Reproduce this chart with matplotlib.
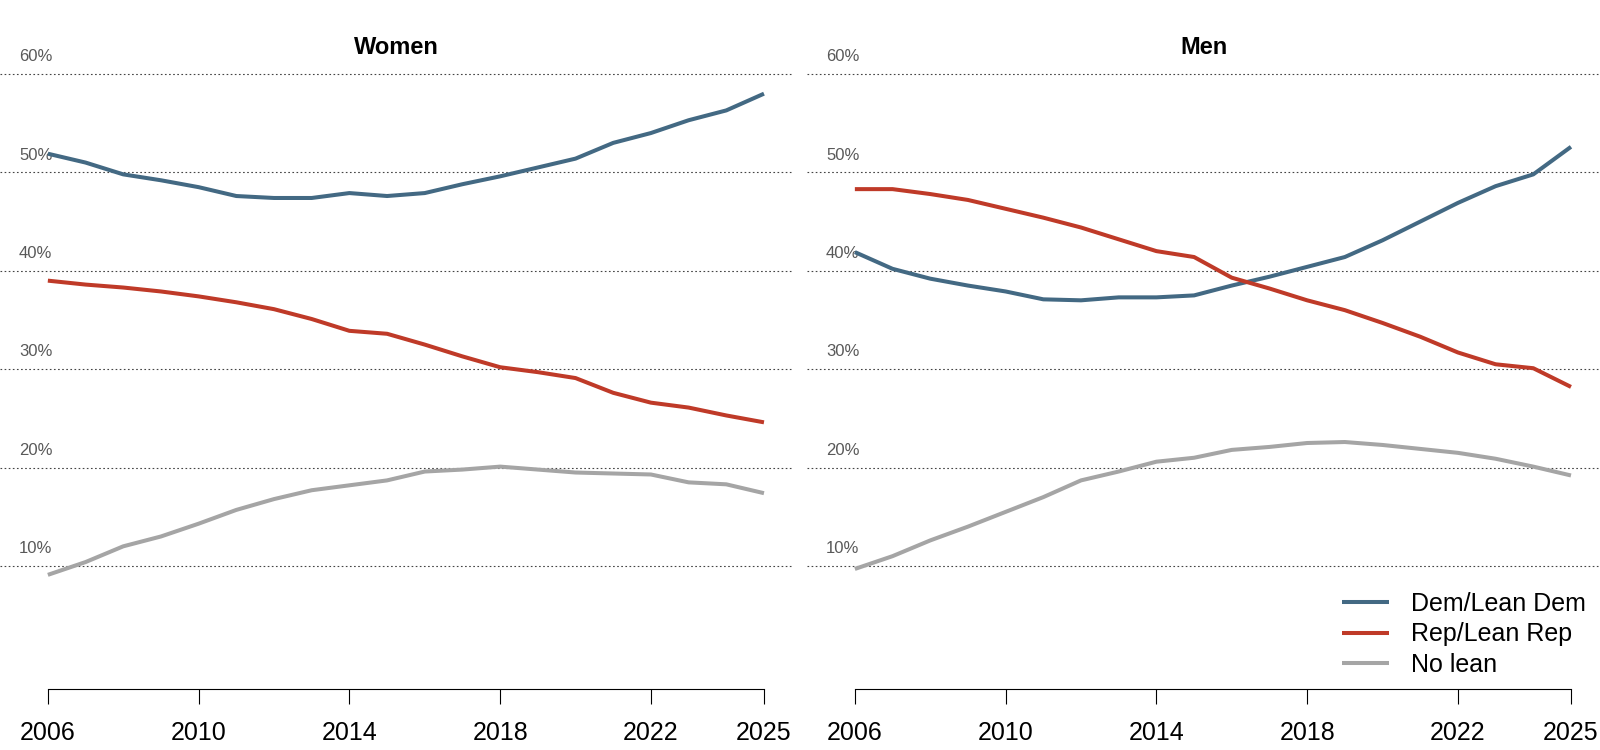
import matplotlib
matplotlib.use("Agg")
import matplotlib.pyplot as plt
import matplotlib.transforms as mtransforms

plt.rcParams['font.family'] = ['Liberation Sans', 'DejaVu Sans']

# data (percent)
years = list(range(2006, 2026))

women_dem = [51.9, 51.0, 49.8, 49.2, 48.5, 47.6, 47.4, 47.4, 47.9, 47.6,
             47.9, 48.8, 49.6, 50.5, 51.4, 53.0, 54.0, 55.3, 56.3, 58.0]
women_rep = [39.0, 38.6, 38.3, 37.9, 37.4, 36.8, 36.1, 35.1, 33.9, 33.6,
             32.5, 31.3, 30.2, 29.7, 29.1, 27.6, 26.6, 26.1, 25.3, 24.6]
women_none = [9.1, 10.4, 12.0, 13.0, 14.3, 15.7, 16.8, 17.7, 18.2, 18.7,
              19.6, 19.8, 20.1, 19.8, 19.5, 19.4, 19.3, 18.5, 18.3, 17.4]

men_dem = [41.9, 40.2, 39.2, 38.5, 37.9, 37.1, 37.0, 37.3, 37.3, 37.5,
           38.5, 39.4, 40.4, 41.4, 43.1, 45.0, 46.9, 48.6, 49.8, 52.6]
men_rep = [48.3, 48.3, 47.8, 47.2, 46.3, 45.4, 44.4, 43.2, 42.0, 41.4,
           39.3, 38.2, 37.0, 36.0, 34.7, 33.3, 31.7, 30.5, 30.1, 28.2]
men_none = [9.7, 11.0, 12.6, 14.0, 15.5, 17.0, 18.7, 19.6, 20.6, 21.0,
            21.8, 22.1, 22.5, 22.6, 22.3, 21.9, 21.5, 20.9, 20.1, 19.2]

series_labels = ['Dem/Lean Dem', 'Rep/Lean Rep', 'No lean']
colors = ['#436983', '#BF3A28', '#A5A5A5']
grid_vals = [10, 20, 30, 40, 50, 60]
xticks = [2006, 2010, 2014, 2018, 2022, 2025]

panels = [
    ('Women', [women_dem, women_rep, women_none]),
    ('Men', [men_dem, men_rep, men_none]),
]

fig = plt.figure(figsize=(16, 7.5), dpi=100)
W, H = 1600, 750
ax_w = 793 / W
bottom = 1 - 689 / H
height = 0.8856
lefts = [0, 807 / W]

for (title, data), left in zip(panels, lefts):
    ax = fig.add_axes([left, bottom, ax_w, height])
    for vals, col, lab in zip(data, colors, series_labels):
        ax.plot(years, vals, color=col, lw=2.9, label=lab,
                solid_capstyle='butt', zorder=3)
    ax.set_xlim(2004.73, 2025.77)
    ax.set_ylim(-2.5, 65)
    ax.set_yticks(grid_vals)
    ax.grid(axis='y', color='#444444', lw=0.8, linestyle=(0, (1.5, 2.2)))
    ax.tick_params(axis='y', left=False, labelleft=False)
    for s in ['top', 'right', 'left']:
        ax.spines[s].set_visible(False)
    ax.spines['bottom'].set_bounds(2006, 2025)
    ax.spines['bottom'].set_linewidth(0.8)
    ax.set_xticks(xticks)
    ax.set_xticklabels([str(x) for x in xticks])
    ax.tick_params(axis='x', length=11, width=0.8, direction='out',
                   labelsize=18, pad=12, colors='black')
    trans = mtransforms.blended_transform_factory(ax.transAxes, ax.transData)
    for g in grid_vals:
        ax.text(19 / 793, g + 1.75, f'{g}%', transform=trans, fontsize=12,
                color='#595959', ha='left', va='center', zorder=1)
    ax.text(0.5, 62.7, title, transform=trans, fontsize=17,
            fontweight='bold', ha='center', va='center')
    last_ax = ax

last_ax.legend(loc='upper left', bbox_to_anchor=(1342 / W, 1 - 592 / H),
               bbox_transform=fig.transFigure, frameon=False, fontsize=18,
               handlelength=1.88, handletextpad=0.88, labelspacing=0.26,
               borderpad=0, borderaxespad=0)

fig.savefig('out.png', dpi=100)
